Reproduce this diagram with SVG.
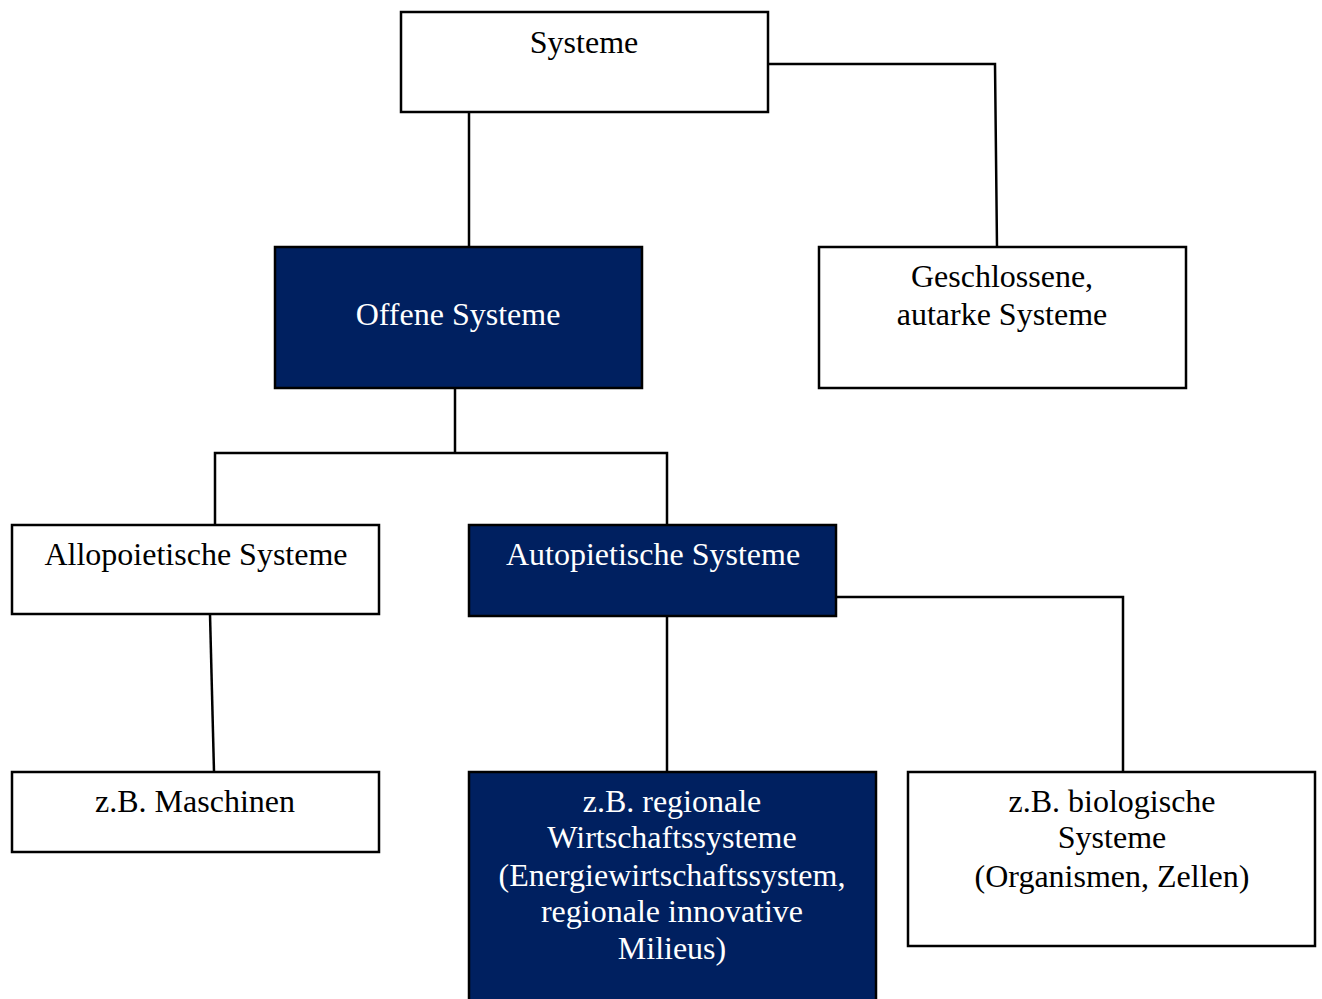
<svg xmlns="http://www.w3.org/2000/svg" width="1322" height="999" viewBox="0 0 1322 999">
  <style>
    .box { fill: #ffffff; stroke: #000000; stroke-width: 2.5; }
    .dark { fill: #002060; stroke: #000000; stroke-width: 2.5; }
    .lbl { font-family: "Liberation Serif", "Times New Roman", serif; font-size: 32px; text-anchor: middle; fill: #000000; }
    .lbl-w { font-family: "Liberation Serif", "Times New Roman", serif; font-size: 32px; text-anchor: middle; fill: #ffffff; }
    .wire { fill: none; stroke: #000000; stroke-width: 2.5; }
  </style>
  <rect width="1322" height="999" fill="#ffffff"/>

  <!-- connectors -->
  <g id="connectors">
    <path class="wire" d="M469,112 V247"/>
    <path class="wire" d="M768,64 H995 L997,247"/>
    <path class="wire" d="M455,388 V453"/>
    <path class="wire" d="M215,525 V453 H667 V525"/>
    <path class="wire" d="M210,614 L214,772"/>
    <path class="wire" d="M667,616 V772"/>
    <path class="wire" d="M836,597 H1123 V772"/>
  </g>

  <g id="systeme">
    <rect class="box" x="401" y="12" width="367" height="100"/>
    <text class="lbl" x="584" y="53">Systeme</text>
  </g>

  <g id="offene">
    <rect class="dark" x="275" y="247" width="367" height="141"/>
    <text class="lbl-w" x="458" y="325">Offene Systeme</text>
  </g>

  <g id="geschlossene">
    <rect class="box" x="819" y="247" width="367" height="141"/>
    <text class="lbl" x="1002" y="287">Geschlossene,</text>
    <text class="lbl" x="1002" y="325">autarke Systeme</text>
  </g>

  <g id="allopoietische">
    <rect class="box" x="12" y="525" width="367" height="89"/>
    <text class="lbl" x="196" y="565">Allopoietische Systeme</text>
  </g>

  <g id="autopietische">
    <rect class="dark" x="469" y="525" width="367" height="91"/>
    <text class="lbl-w" x="653" y="565">Autopietische Systeme</text>
  </g>

  <g id="maschinen">
    <rect class="box" x="12" y="772" width="367" height="80"/>
    <text class="lbl" x="195" y="812">z.B. Maschinen</text>
  </g>

  <g id="wirtschaft">
    <rect class="dark" x="469" y="772" width="407" height="240"/>
    <text class="lbl-w" x="672" y="812">z.B. regionale</text>
    <text class="lbl-w" x="672" y="848">Wirtschaftssysteme</text>
    <text class="lbl-w" x="672" y="886">(Energiewirtschaftssystem,</text>
    <text class="lbl-w" x="672" y="922">regionale innovative</text>
    <text class="lbl-w" x="672" y="959">Milieus)</text>
  </g>

  <g id="biologische">
    <rect class="box" x="908" y="772" width="407" height="174"/>
    <text class="lbl" x="1112" y="812">z.B. biologische</text>
    <text class="lbl" x="1112" y="848">Systeme</text>
    <text class="lbl" x="1112" y="887">(Organismen, Zellen)</text>
  </g>
</svg>
